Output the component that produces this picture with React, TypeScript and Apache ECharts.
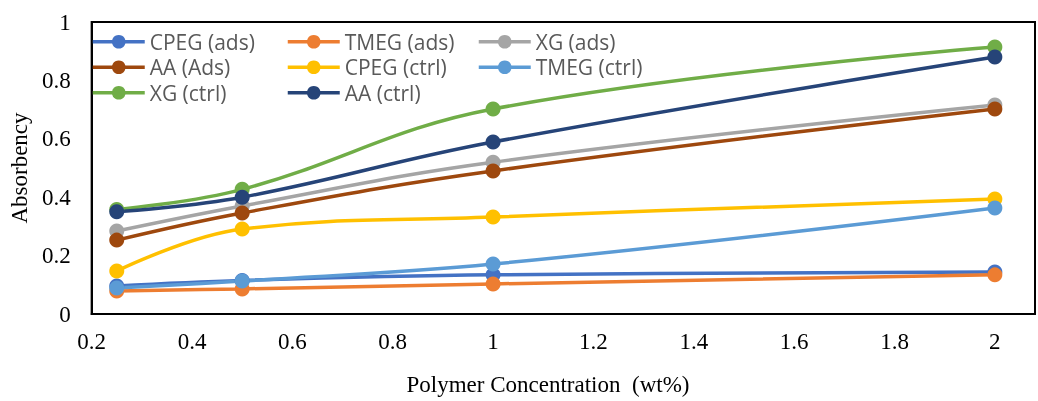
import React, { useEffect, useRef } from "react";
import * as echarts from "echarts";

const xValues = [0.25, 0.5, 1, 2];
const seriesNames = [
  "CPEG (ads)",
  "TMEG (ads)",
  "XG (ads)",
  "AA (Ads)",
  "CPEG (ctrl)",
  "TMEG (ctrl)",
  "XG (ctrl)",
  "AA (ctrl)",
];
const cpegAds = [0.096, 0.115, 0.134, 0.144];
const tmegAds = [0.079, 0.086, 0.103, 0.134];
const xgAds = [0.284, 0.37, 0.52, 0.716];
const aaAds = [0.253, 0.346, 0.49, 0.702];
const cpegCtrl = [0.147, 0.291, 0.332, 0.394];
const tmegCtrl = [0.089, 0.113, 0.171, 0.363];
const xgCtrl = [0.358, 0.427, 0.702, 0.914];
const aaCtrl = [0.35, 0.4, 0.589, 0.88];
const seriesValues = [cpegAds, tmegAds, xgAds, aaAds, cpegCtrl, tmegCtrl, xgCtrl, aaCtrl];
const colors = ["#4472C4", "#ED7D31", "#A5A5A5", "#9E480E", "#FFC000", "#5B9BD5", "#70AD47", "#264478"];
const legendColumns = [
  ["CPEG (ads)", "AA (Ads)", "XG (ctrl)"],
  ["TMEG (ads)", "CPEG (ctrl)", "AA (ctrl)"],
  ["XG (ads)", "TMEG (ctrl)"],
];
const yTitle = "Absorbency";
const xTitle = "Polymer Concentration  (wt%)";

export default function App() {
  const ref = useRef<HTMLDivElement>(null);
  useEffect(() => {
    if (!ref.current) return;
    const chart = echarts.init(ref.current, null, { renderer: "svg" });
    const serif = "'Liberation Serif', 'Times New Roman', serif";
    const legendLefts = [91, 286, 477];
    chart.setOption({
      animation: false,
      color: colors,
      grid: {
        left: 91,
        right: 3,
        top: 22,
        bottom: 87,
        show: true,
        borderColor: "#000",
        borderWidth: 2,
        backgroundColor: "transparent",
      },
      legend: legendColumns.map((col, i) => ({
        data: col,
        orient: "vertical",
        left: legendLefts[i],
        top: 29,
        padding: 0,
        itemGap: 0,
        itemWidth: 52,
        itemHeight: 17,
        lineStyle: { width: 3.5 },
        textStyle: {
          fontFamily: "'Open Sans', sans-serif",
          fontSize: 21,
          color: "#595959",
          lineHeight: 25.5,
        },
      })),
      xAxis: {
        type: "value",
        min: 0.2,
        max: 2.08,
        interval: 0.2,
        axisLine: { show: true, onZero: false, lineStyle: { color: "#000", width: 2 } },
        axisTick: { show: false },
        splitLine: { show: false },
        axisLabel: {
          showMaxLabel: false,
          margin: 16,
          fontFamily: serif,
          fontSize: 23,
          color: "#000",
          formatter: (v: number) => String(Math.round(v * 10) / 10),
        },
      },
      yAxis: {
        type: "value",
        min: 0,
        max: 1,
        interval: 0.2,
        name: yTitle,
        nameLocation: "middle",
        nameGap: 57,
        nameTextStyle: { fontFamily: serif, fontSize: 23, color: "#000" },
        axisLine: { show: true, lineStyle: { color: "#000", width: 2 } },
        axisTick: { show: false },
        splitLine: { show: false },
        axisLabel: {
          margin: 21,
          fontFamily: serif,
          fontSize: 23,
          color: "#000",
          formatter: (v: number) => String(Math.round(v * 10) / 10),
        },
      },
      graphic: [
        {
          type: "text",
          x: 548,
          y: 373,
          style: { text: xTitle, font: `23px ${serif}`, fill: "#000", align: "center" },
        },
      ],
      series: seriesNames.map((name, i) => ({
        name,
        type: "line",
        smooth: 0.4,
        symbol: "circle",
        symbolSize: 15,
        lineStyle: { width: 3.5 },
        data: xValues.map((x, j) => [x, seriesValues[i][j]]),
      })),
    });
    return () => chart.dispose();
  }, []);
  return <div ref={ref} style={{ position: "fixed", left: 0, top: 0, width: 1038, height: 401 }} />;
}
